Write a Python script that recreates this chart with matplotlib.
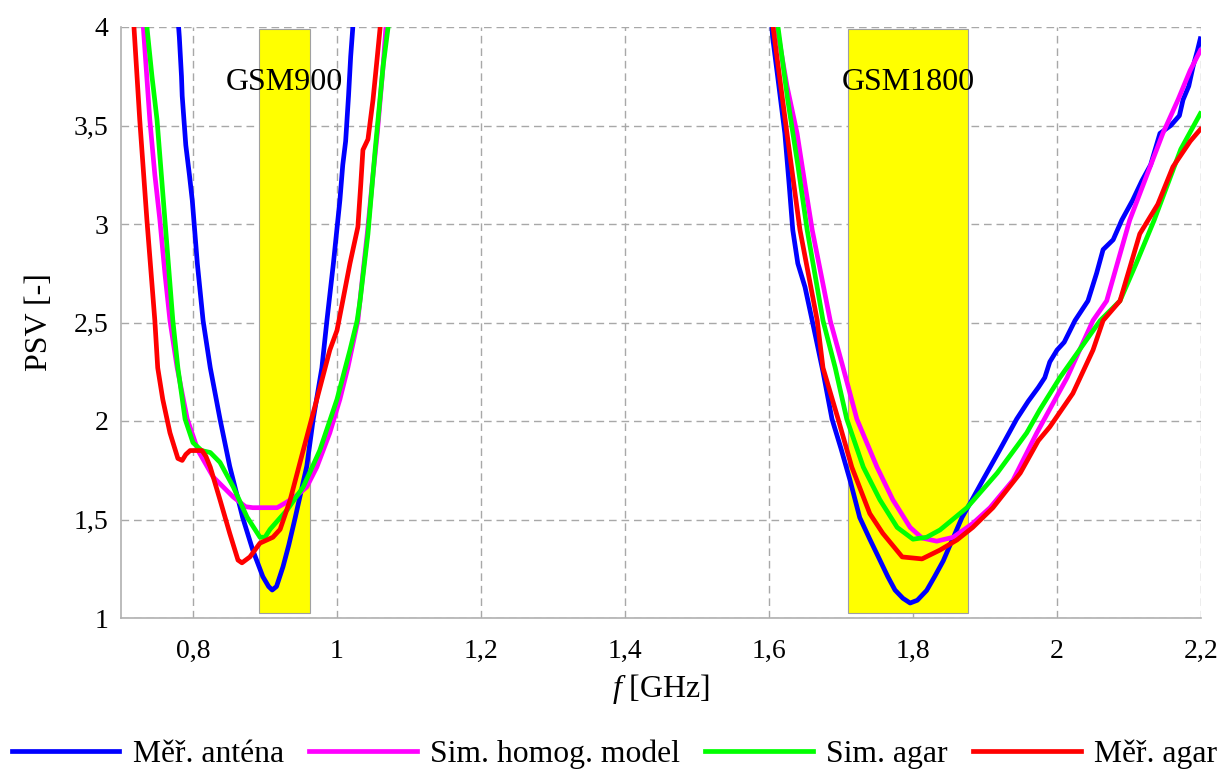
import numpy as np
import matplotlib
matplotlib.use("Agg")
import matplotlib.pyplot as plt
from matplotlib.ticker import FuncFormatter

plt.rcParams['font.family'] = ['Liberation Serif', 'DejaVu Serif']
plt.rcParams['mathtext.fontset'] = 'custom'
plt.rcParams['mathtext.it'] = 'Liberation Serif:italic'
plt.rcParams['mathtext.rm'] = 'Liberation Serif'

# ---------------- data ----------------
labels = ["Měř. anténa", "Sim. homog. model", "Sim. agar", "Měř. agar"]
colors = ["#0000ff", "#ff00ff", "#00ff00", "#ff0000"]

# Měř. anténa
blue_f = [0.778, 0.781, 0.784, 0.785, 0.790, 0.795, 0.799, 0.806, 0.814, 0.824, 0.8375, 0.851, 0.860,
          0.869, 0.883, 0.897, 0.905, 0.910, 0.916, 0.925, 0.933, 0.942, 0.950, 0.958, 0.967, 0.979,
          0.986, 0.995, 1.004, 1.008, 1.012, 1.016, 1.019, 1.022, 1.024,
          np.nan,
          1.602, 1.605, 1.612, 1.622, 1.628, 1.633, 1.640, 1.650, 1.660, 1.675, 1.6875, 1.700, 1.7125,
          1.726, 1.740, 1.754, 1.765, 1.775, 1.786, 1.796, 1.806, 1.819, 1.830, 1.842, 1.855, 1.868,
          1.882, 1.897, 1.920, 1.944, 1.960, 1.974, 1.983, 1.990, 2.000, 2.010, 2.025, 2.043, 2.055,
          2.064, 2.078, 2.090, 2.105, 2.118, 2.130, 2.143, 2.158, 2.170, 2.175, 2.183, 2.189, 2.195, 2.199]
blue_v = [4.10, 3.95, 3.75, 3.65, 3.40, 3.25, 3.12, 2.80, 2.51, 2.27, 2.01, 1.77, 1.64,
          1.51, 1.345, 1.21, 1.16, 1.142, 1.16, 1.26, 1.37, 1.51, 1.64, 1.77, 2.01, 2.27,
          2.51, 2.80, 3.12, 3.30, 3.42, 3.65, 3.85, 4.00, 4.10,
          np.nan,
          4.10, 3.95, 3.75, 3.46, 3.20, 2.97, 2.80, 2.68, 2.51, 2.25, 2.01, 1.86, 1.70,
          1.51, 1.40, 1.294, 1.21, 1.142, 1.10, 1.076, 1.09, 1.14, 1.21, 1.29, 1.40, 1.51,
          1.60, 1.70, 1.85, 2.01, 2.10, 2.17, 2.22, 2.30, 2.36, 2.40, 2.51, 2.61, 2.75,
          2.87, 2.92, 3.02, 3.12, 3.22, 3.30, 3.46, 3.50, 3.55, 3.63, 3.70, 3.80, 3.88, 3.94]

# Sim. homog. model
mag_f = [0.728, 0.731, 0.740, 0.747, 0.754, 0.761, 0.768, 0.778, 0.792, 0.807, 0.828, 0.856, 0.873,
         0.883, 0.917, 0.931, 0.945, 0.958, 0.972, 0.990, 1.004, 1.015, 1.029, 1.036, 1.042, 1.050,
         1.056, 1.064, 1.068, 1.070,
         np.nan,
         1.608, 1.611, 1.625, 1.639, 1.650, 1.660, 1.672, 1.685, 1.703, 1.722, 1.750, 1.772, 1.796,
         1.8125, 1.833, 1.856, 1.883, 1.907, 1.939, 1.972, 2.014, 2.050, 2.069, 2.101, 2.147, 2.168,
         2.185, 2.199]
mag_v = [4.10, 4.00, 3.53, 3.25, 3.02, 2.75, 2.51, 2.27, 2.01, 1.85, 1.716, 1.614, 1.565,
         1.56, 1.56, 1.59, 1.625, 1.665, 1.766, 1.94, 2.11, 2.27, 2.51, 2.75, 2.95, 3.25,
         3.46, 3.80, 4.00, 4.10,
         np.nan,
         4.10, 4.00, 3.70, 3.46, 3.20, 2.97, 2.75, 2.51, 2.27, 2.01, 1.766, 1.60, 1.46,
         1.406, 1.39, 1.41, 1.48, 1.56, 1.70, 1.94, 2.22, 2.51, 2.61, 3.02, 3.46, 3.63,
         3.78, 3.88]

# Sim. agar
grn_f = [0.733, 0.736, 0.743, 0.750, 0.761, 0.772, 0.779, 0.789, 0.800, 0.812, 0.824, 0.8375, 0.856,
         0.875, 0.893, 0.900, 0.907, 0.931, 0.953, 0.976, 1.000, 1.018, 1.028, 1.032, 1.043, 1.053,
         1.064, 1.071, 1.073,
         np.nan,
         1.610, 1.6125, 1.626, 1.640, 1.653, 1.675, 1.692, 1.708, 1.731, 1.754, 1.778, 1.800, 1.819,
         1.8375, 1.875, 1.917, 1.958, 1.976, 2.004, 2.060, 2.0875, 2.110, 2.135, 2.172, 2.190, 2.199]
grn_v = [4.10, 4.00, 3.75, 3.53, 3.02, 2.51, 2.27, 2.01, 1.89, 1.85, 1.84, 1.79, 1.665,
         1.513, 1.41, 1.41, 1.45, 1.55, 1.665, 1.85, 2.11, 2.36, 2.51, 2.61, 2.95, 3.376,
         3.80, 4.00, 4.10,
         np.nan,
         4.10, 4.00, 3.63, 3.30, 2.97, 2.51, 2.27, 2.01, 1.766, 1.60, 1.46, 1.40, 1.41,
         1.447, 1.56, 1.736, 1.94, 2.056, 2.22, 2.51, 2.61, 2.80, 3.02, 3.38, 3.50, 3.56]

# Měř. agar
red_f = [0.716, 0.718, 0.726, 0.736, 0.747, 0.751, 0.758, 0.768, 0.779, 0.785, 0.790, 0.796, 0.8125,
         0.818, 0.824, 0.8375, 0.851, 0.8625, 0.868, 0.879, 0.893, 0.911, 0.921, 0.935, 0.953, 0.972,
         0.990, 1.000, 1.008, 1.018, 1.029, 1.033, 1.036, 1.043, 1.050, 1.056, 1.060, 1.062,
         np.nan,
         1.603, 1.6056, 1.625, 1.643, 1.667, 1.675, 1.696, 1.715, 1.740, 1.758, 1.785, 1.8125, 1.8375,
         1.861, 1.883, 1.911, 1.949, 1.974, 1.990, 2.022, 2.050, 2.064, 2.0875, 2.115, 2.140, 2.161,
         2.185, 2.199]
red_v = [4.10, 4.00, 3.53, 3.02, 2.51, 2.27, 2.11, 1.94, 1.81, 1.80, 1.83, 1.85, 1.85,
         1.82, 1.766, 1.60, 1.43, 1.294, 1.28, 1.31, 1.38, 1.41, 1.45, 1.60, 1.85, 2.11,
         2.36, 2.46, 2.61, 2.80, 2.985, 3.20, 3.376, 3.43, 3.63, 3.85, 4.00, 4.10,
         np.nan,
         4.10, 4.00, 3.46, 2.97, 2.51, 2.27, 2.01, 1.766, 1.53, 1.43, 1.31, 1.30, 1.345,
         1.396, 1.46, 1.56, 1.736, 1.90, 1.97, 2.14, 2.36, 2.51, 2.61, 2.95, 3.10, 3.29,
         3.42, 3.48]

series_f = [blue_f, mag_f, grn_f, red_f]
series_v = [blue_v, mag_v, grn_v, red_v]

band_names = ["GSM900", "GSM1800"]
band_lo = [0.891, 1.710]
band_hi = [0.963, 1.877]
band_bottom = 1.025
band_top = 3.99

x_ticks = [0.8, 1.0, 1.2, 1.4, 1.6, 1.8, 2.0, 2.2]
y_ticks = [1, 1.5, 2, 2.5, 3, 3.5, 4]

# ---------------- figure ----------------
fig = plt.figure(figsize=(12.29, 7.74), dpi=100)
ax = fig.add_axes([121/1229, 1 - 618/774, (1201-121)/1229, (618-27)/774])

ax.set_xlim(0.7, 2.2)
ax.set_ylim(1, 4)
ax.set_xticks(x_ticks)
ax.set_yticks(y_ticks)

def comma(v, pos):
    s = ('%g' % round(v, 3))
    return s.replace('.', ',')
ax.xaxis.set_major_formatter(FuncFormatter(comma))
ax.yaxis.set_major_formatter(FuncFormatter(comma))

ax.grid(True, color='#a8a8a8', linestyle=(0, (5.5, 3.5)), linewidth=1.0, zorder=0)
ax.set_axisbelow(True)

for lo, hi, name in zip(band_lo, band_hi, band_names):
    ax.bar((lo + hi) / 2, band_top - band_bottom, width=hi - lo, bottom=band_bottom,
           color='#ffff00', edgecolor='#a0a0a0', linewidth=0.8, zorder=1)
    ax.text((lo + hi) / 2, 3.72, name, ha='center', va='center', fontsize=23, zorder=5)

for f, v, c, lab in zip(series_f, series_v, colors, labels):
    ax.plot(f, v, color=c, linewidth=3.4, label=lab, zorder=3, solid_joinstyle='round')

for side in ['top', 'right']:
    ax.spines[side].set_visible(False)
for side in ['left', 'bottom']:
    ax.spines[side].set_color('#b0b0b0')
    ax.spines[side].set_linewidth(1.2)

ax.tick_params(axis='both', length=0, labelsize=20)
ax.tick_params(axis='x', pad=15)
ax.tick_params(axis='y', pad=9)
ax.set_xlabel(r'$\mathit{f}$ [GHz]', fontsize=23, labelpad=6)
ax.set_ylabel('PSV [-]', fontsize=23, labelpad=14)

handles, labs = ax.get_legend_handles_labels()
fig.legend(handles, labs, loc='center', bbox_to_anchor=(0.5, 1 - 754/774), ncol=4,
           frameon=False, fontsize=22.8, handlelength=3.4, handletextpad=0.42,
           columnspacing=0.8)

fig.savefig('out.png', dpi=100)
